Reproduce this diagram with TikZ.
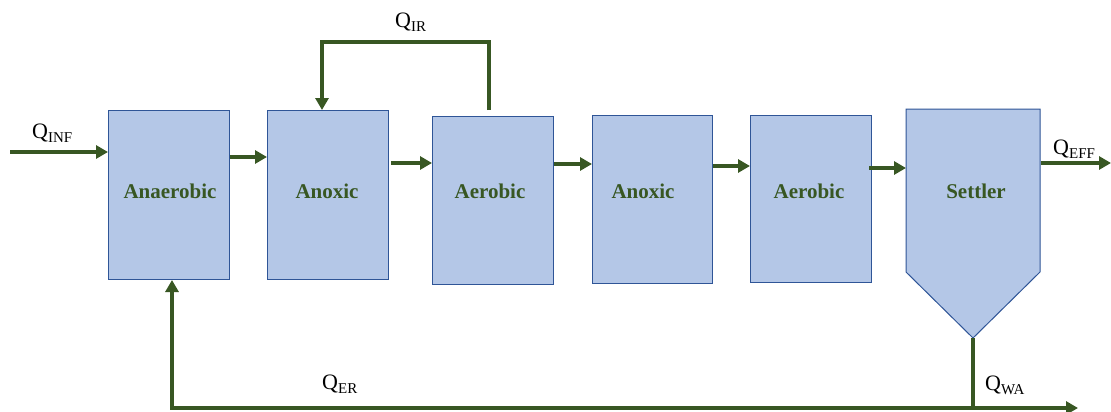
\documentclass[tikz,border=0pt]{standalone}
\usepackage{fontspec}
\setmainfont{Liberation Serif}
\usetikzlibrary{arrows.meta}
\definecolor{flowgreen}{HTML}{385723}
\definecolor{tankfill}{HTML}{B4C7E7}
\definecolor{tankline}{HTML}{2F5597}
\newcommand{\flowlabel}[2]{{\fontsize{22}{22}\selectfont #1}{\fontsize{15}{15}\selectfont\raisebox{-4pt}{#2}}}
\tikzset{
  tank/.style={draw=tankline, fill=tankfill, line width=1pt, rectangle, anchor=north west,
    inner sep=0pt},
  tanktext/.style={text=flowgreen, font=\fontsize{21}{24}\selectfont\bfseries, inner sep=0pt},
  flow/.style={draw=flowgreen, line width=4pt, -{Triangle[length=12pt,width=13pt]}},
  pipe/.style={draw=flowgreen, line width=4pt},
  qlabel/.style={anchor=base west, inner sep=0pt}
}
\begin{document}
\begin{tikzpicture}[x=1pt,y=-1pt]
\useasboundingbox (0,0) rectangle (1111,412);
% reactor tanks
\node[tank, minimum width=121pt, minimum height=169pt] (anaer) at (108,110) {};
\node[tank, minimum width=121pt, minimum height=169pt] (anox1) at (267,110) {};
\node[tank, minimum width=121pt, minimum height=168pt] (aer1) at (432,116) {};
\node[tank, minimum width=120pt, minimum height=168pt] (anox2) at (592,115) {};
\node[tank, minimum width=121pt, minimum height=167pt] (aer2) at (750,115) {};
% settler: rectangle with a conical bottom
\coordinate (tip) at (973,338);
\fill[tankfill] (906,109) -- (1040,109) -- (1040,272) -- (tip) -- (906,272) -- cycle;
\node[tank, draw=none, fill=none, minimum width=134pt, minimum height=163pt] (settler) at (906,109) {};
\draw[tankline, line width=1pt, line join=miter] (906,272) -- (906,109) -- (1040,109) -- (1040,272) -- (tip) -- cycle;
% tank names, all on one line
\node[tanktext, anchor=base] (tAnaer) at (170,198) {Anaerobic};
\node[tanktext, anchor=base] (tAnox1) at (327,198) {Anoxic};
\node[tanktext, anchor=base] (tAer1) at (490,198) {Aerobic};
\node[tanktext, anchor=base] (tAnox2) at (643,198) {Anoxic};
\node[tanktext, anchor=base] (tAer2) at (809,198) {Aerobic};
\node[tanktext, anchor=base] (tSettler) at (976,198) {Settler};
% main flow line
\coordinate (inf) at (10,152);
\draw[flow] (inf) -- (anaer.west |- inf);
\draw[flow] (anaer.east |- 0,157) -- (anox1.west |- 0,157);
\draw[flow] (391,163) -- (aer1.west |- 0,163);
\draw[flow] (aer1.east |- 0,164) -- (anox2.west |- 0,164);
\draw[flow] (anox2.east |- 0,166) -- (aer2.west |- 0,166);
\draw[flow] (869,168) -- (settler.west |- 0,168);
\coordinate (eff) at (1111,163);
\draw[flow] (settler.east |- eff) -- (eff);
% internal recycle
\coordinate (irR) at (489,42);
\coordinate (irL) at (322,42);
\draw[flow, line join=miter] (irR |- 0,110) -- (irR) -- (irL) -- (anox1.north -| irL);
% sludge return and wastage
\coordinate (junction) at (973,408);
\coordinate (retcorner) at (172,408);
\coordinate (wa) at (1078,408);
\draw[pipe] (tip) -- (junction);
\draw[flow] (junction) -- (wa);
\draw[flow, line join=miter] (junction) -- (retcorner) -- (anaer.south -| retcorner);
% stream labels
\node[qlabel] (qinf) at (32,138) {\flowlabel{Q}{INF}};
\node[qlabel] (qir) at (395,28) {\flowlabel{Q}{IR}};
\node[qlabel] (qeff) at (1053,154) {\flowlabel{Q}{EFF}};
\node[qlabel] (qer) at (322,389) {\flowlabel{Q}{ER}};
\node[qlabel] (qwa) at (985,390) {\flowlabel{Q}{WA}};
\end{tikzpicture}
\end{document}
